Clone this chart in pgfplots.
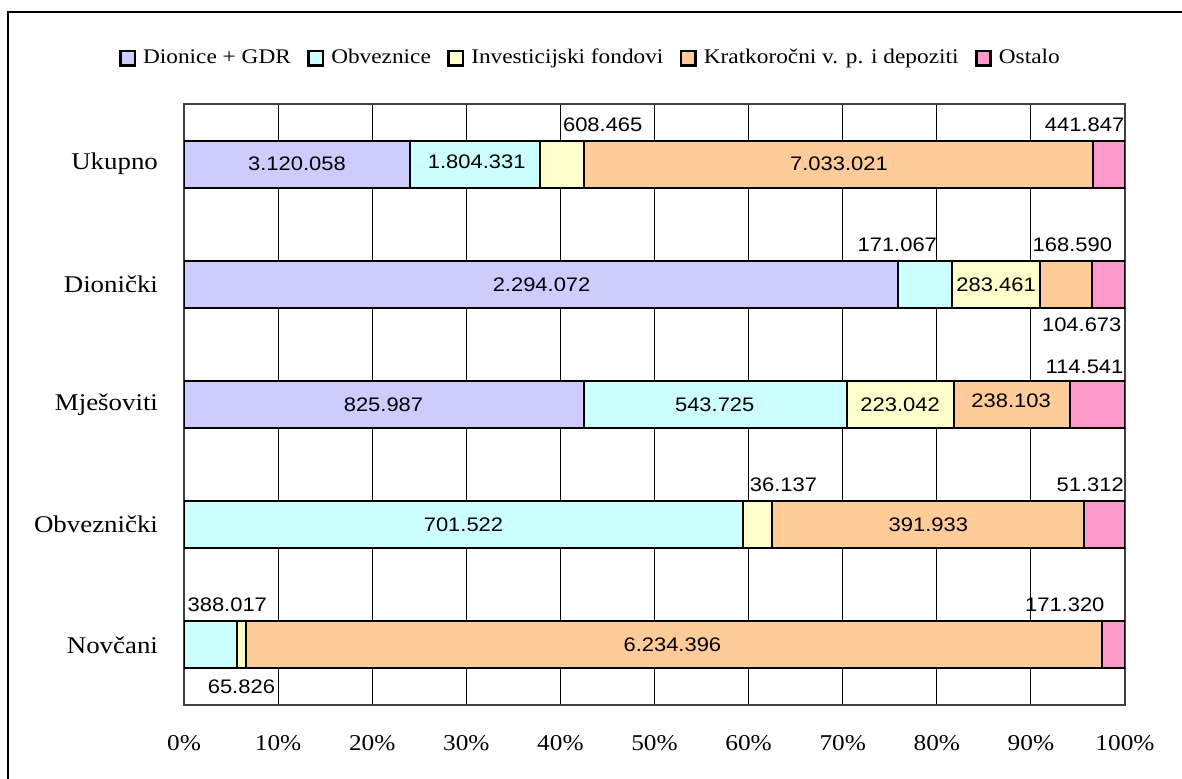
\documentclass[border=0pt]{standalone}
\usepackage{fontspec}
\setmainfont{Liberation Serif}[FakeStretch=1.12]
\newfontfamily\labfont{Liberation Sans}[FakeStretch=1.12]
\usepackage{pgfplots}
\usepackage{pgfplotstable}
\pgfplotsset{compat=1.18}
\definecolor{cDion}{HTML}{CCCCFF}
\definecolor{cObv}{HTML}{CCFFFF}
\definecolor{cInv}{HTML}{FFFFCC}
\definecolor{cKra}{HTML}{FFCC99}
\definecolor{cOst}{HTML}{FF99CC}
\pgfplotstableread{
pos a b c d e
5 3120058 1804331 608465 7033021 441847
4 2294072 171067 283461 168590 104673
3 825987 543725 223042 238103 114541
2 0 701522 36137 391933 51312
1 0 388017 65826 6234396 171320
}\rawdata
\pgfplotstableread{
x y lab
12.0 5 3.120.058
31.1 5.02 1.804.331
44.5 5.325 608.465
69.6 5 7.033.021
95.7 5.325 441.847
38.0 4 2.294.072
75.8 4.327 171.067
86.3 4 283.461
94.4 4.327 168.590
95.4 3.661 104.673
21.2 3 825.987
56.4 3 543.725
76.1 3 223.042
87.9 3.03 238.103
95.7 3.312 114.541
29.7 2 701.522
63.7 2.33 36.137
79.1 2 391.933
96.3 2.33 51.312
4.6 1.332 388.017
6.1 0.65 65.826
51.9 1 6.234.396
93.6 1.332 171.320
}\labeldata
\newcommand\tot{(\thisrow{a}+\thisrow{b}+\thisrow{c}+\thisrow{d}+\thisrow{e})}
\begin{document}
\begin{tikzpicture}
\useasboundingbox (0pt,0pt) rectangle (591pt,-389.5pt);
\draw[line width=1pt] (4pt,-6pt) rectangle (700pt,-500pt);
\pgfplotsset{common/.style={width=470.5pt,height=300.5pt,scale only axis,at={(92pt,-52pt)},anchor=north west,xmin=0,xmax=100,ymin=0.5,ymax=5.5}}
\begin{axis}[common,
  xbar stacked, bar width=23.5pt, bar shift=0pt,
  axis line style={black!75, line width=0.6pt},
  xtick={0,10,...,100},
  xticklabels={0\%,10\%,20\%,30\%,40\%,50\%,60\%,70\%,80\%,90\%,100\%},
  xmajorgrids, grid style={black, line width=0.5pt},
  ytick={1,2,3,4,5},
  yticklabels={Novčani,Obveznički,Mješoviti,Dionički,Ukupno},
  major tick length=0pt,
  xticklabel style={yshift=-11.5pt, font=\fontsize{11.3}{13}\selectfont},
  yticklabel style={xshift=-9.5pt, font=\fontsize{12}{14}\selectfont},
  legend columns=-1,
  legend style={draw=none, at={(0.433,1.0765)}, anchor=center,
    font=\fontsize{10.4}{12}\selectfont,
    /tikz/every odd column/.append style={column sep=1.5pt},
    /tikz/every even column/.append style={column sep=6.2pt}},
  legend image code/.code={\draw[#1,draw=black,line width=1.3pt] (0pt,-3.6pt) rectangle (7.2pt,3.6pt);},
  every axis plot/.append style={draw=black, line width=1pt},
]
\addplot[fill=cDion] table[x expr=100*\thisrow{a}/\tot, y=pos]{\rawdata};
\addplot[fill=cObv] table[x expr=100*\thisrow{b}/\tot, y=pos]{\rawdata};
\addplot[fill=cInv] table[x expr=100*\thisrow{c}/\tot, y=pos]{\rawdata};
\addplot[fill=cKra] table[x expr=100*\thisrow{d}/\tot, y=pos]{\rawdata};
\addplot[fill=cOst] table[x expr=100*\thisrow{e}/\tot, y=pos]{\rawdata};
\legend{Dionice + GDR,Obveznice,Investicijski fondovi,Kratkoročni v. p. i depoziti,Ostalo}
\end{axis}
\begin{axis}[common, hide axis, clip=false]
\addplot[draw=none, mark=none, nodes near coords, point meta=explicit symbolic,
  nodes near coords style={anchor=center, font=\labfont\fontsize{9.8}{11}\selectfont}]
  table[x=x, y=y, meta=lab]{\labeldata};
\end{axis}
\end{tikzpicture}
\end{document}
